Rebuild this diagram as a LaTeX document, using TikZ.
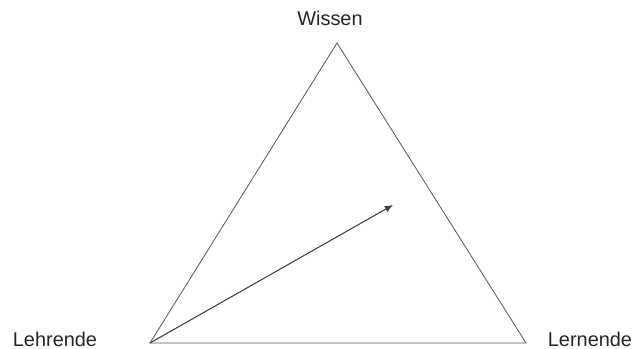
\documentclass[tikz,border=0pt]{standalone}
\usepackage{fontspec}
\setmainfont{Liberation Sans}
\usetikzlibrary{arrows.meta}

\begin{document}
\begin{tikzpicture}[
    x=0.03cm, y=-0.03cm,
    label/.style = {font=\fontsize{17}{20}\selectfont, text=black!85, inner sep=0pt},
    side/.style = {draw=black!65, line width=0.7pt},
    arrow/.style = {draw=black!75, line width=0.9pt, -{Latex[length=7pt,width=6pt]}}
]
\useasboundingbox (0,0) rectangle (635,349);

% corners of the triangle
\coordinate (top) at (337, 43);
\coordinate (left) at (150, 343);
\coordinate (right) at (526, 343);
\coordinate (goal) at (393, 205);

% labels
\node (wissen) [label] at (330, 18) {Wissen};
\node (lehrende) [label] at (55, 339) {Lehrende};
\node (lernende) [label] at (590, 339) {Lernende};

% triangle
\draw [side] (left) -- (top) -- (right) -- cycle;

% arrow
\draw [arrow] (left) -- (goal);

\end{tikzpicture}
\end{document}
